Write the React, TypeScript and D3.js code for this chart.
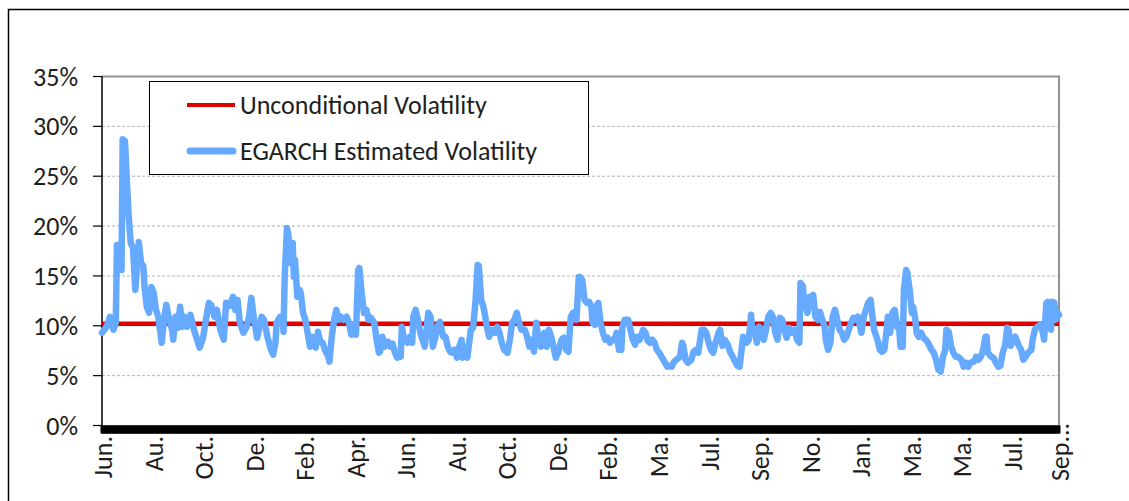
import React from "react";
import * as d3 from "d3";

// ---------- data ----------
const yTicks = [0, 5, 10, 15, 20, 25, 30, 35];
const tickLabels = ["Jun.", "Au.", "Oct.", "De.", "Feb.", "Apr.", "Jun.", "Au.", "Oct.", "De.", "Feb.", "Ma.", "Jul.", "Sep.", "No.", "Jan.", "Ma.", "Ma.", "Jul.", "Sep..."];
const tickDays = [0, 44, 88, 132, 176, 220, 264, 308, 352, 396, 440, 484, 528, 572, 616, 660, 704, 748, 792, 833];
const seriesNames = ["Unconditional Volatility", "EGARCH Estimated Volatility"];
const unconditionalVol = 10.2;
// [trading day, volatility %]
const egarch: [number, number][] = [
  [0, 9.3], [4, 9.9], [7, 10.9], [10, 9.6], [12, 10.3], [13, 18.1], [15, 18.1], [17, 15.6], [18, 28.7], [20, 28.5],
  [23, 21.3], [25, 18.3], [27, 17.8], [29, 13.6], [32, 18.4], [34, 16.3], [36, 16.0], [37, 13.9], [39, 11.9], [41, 11.3],
  [43, 13.9], [45, 13.3], [47, 11.6], [49, 10.9], [52, 8.3], [54, 10.6], [56, 12.1], [58, 10.9], [61, 9.6], [62, 8.6],
  [64, 10.9], [66, 9.8], [68, 11.9], [70, 9.9], [72, 10.9], [74, 9.9], [77, 11.1], [80, 9.6], [82, 8.9], [85, 7.8],
  [88, 8.8], [90, 10.3], [93, 12.3], [95, 12.1], [98, 10.9], [100, 11.6], [103, 9.6], [106, 8.6], [108, 12.3], [111, 12.0],
  [114, 12.9], [116, 11.6], [118, 12.6], [120, 10.3], [123, 9.3], [126, 9.9], [128, 10.9], [130, 12.8], [132, 10.9], [135, 8.8],
  [137, 9.9],
  [139, 10.9], [141, 10.6], [144, 8.9], [147, 7.6], [149, 7.1], [151, 8.3], [152, 10.3], [155, 10.9], [157, 10.9], [158, 9.4],
  [159, 14.9], [161, 19.8], [162, 19.3], [164, 16.3], [166, 18.3], [167, 14.9], [168, 16.6], [170, 12.9], [172, 13.6], [173, 13.3],
  [175, 11.3], [177, 10.6], [179, 9.3], [181, 7.9], [183, 8.9], [184, 8.6], [186, 7.8], [188, 9.4], [190, 8.4], [192, 8.3],
  [194, 7.6], [197, 6.9], [198, 6.4], [200, 8.9], [202, 10.6], [204, 11.6], [206, 10.6], [208, 10.9], [210, 10.6], [213, 10.9],
  [215, 10.3], [217, 9.1], [219, 10.1], [221, 9.1], [223, 15.6], [224, 15.8], [226, 13.3], [228, 11.3], [230, 11.6], [232, 10.6],
  [234, 10.8], [237, 10.3], [239, 8.6], [241, 7.3], [242, 7.4], [244, 8.9], [246, 7.9], [249, 8.4], [251, 7.9], [253, 8.2],
  [255, 7.3], [257, 6.8], [260, 6.9], [261, 9.9], [263, 8.6], [266, 8.3], [268, 8.9], [270, 8.3], [271, 10.9], [273, 11.6],
  [275, 10.6],
  [277, 9.3], [279, 8.6], [281, 7.9], [284, 11.3], [286, 10.9], [288, 7.9], [290, 8.8], [292, 9.9], [294, 10.4], [297, 8.9],
  [299, 8.9], [301, 7.9], [303, 7.4], [305, 7.3], [307, 7.6], [309, 6.8], [311, 7.9], [313, 8.6], [314, 6.8], [316, 7.9],
  [318, 6.8], [321, 9.6], [323, 9.8], [325, 12.3], [327, 16.1], [328, 16.0], [330, 12.6], [332, 11.9], [333, 11.3], [335, 9.9],
  [337, 8.9], [339, 9.6], [342, 9.3], [344, 9.9], [346, 9.3], [348, 8.3], [350, 7.6], [353, 7.3], [355, 8.6], [357, 10.3],
  [359, 10.6], [361, 11.3], [363, 10.3], [365, 9.6], [368, 9.6], [370, 8.9], [372, 7.9], [374, 8.6], [376, 7.4], [378, 10.3],
  [380, 8.6], [382, 7.9], [385, 9.3], [387, 7.9], [389, 9.6], [391, 8.9], [393, 7.9], [395, 6.8], [397, 7.3], [400, 8.6],
  [402, 8.8], [404, 7.6], [406, 7.4], [408, 10.9], [410, 11.3], [412, 11.4], [413, 10.6], [415, 14.9],
  [416, 14.9], [418, 14.6], [420, 12.6], [422, 12.3], [424, 12.4], [426, 11.9], [427, 10.3], [429, 10.1], [431, 12.1], [432, 12.3],
  [434, 10.3], [436, 9.3], [438, 8.6], [440, 8.8], [442, 8.3], [445, 8.6], [447, 8.9], [448, 9.3], [450, 7.6], [452, 7.6],
  [453, 9.9], [455, 10.6], [458, 10.6], [460, 9.6], [462, 8.6], [464, 8.1], [466, 8.9], [468, 8.6], [471, 9.6], [473, 9.3],
  [475, 8.5], [477, 8.3], [479, 8.6], [481, 8.3], [483, 7.6], [485, 7.3], [487, 6.9], [490, 6.3], [492, 5.9], [494, 6.0],
  [496, 5.9], [498, 6.4], [500, 6.6], [503, 6.9], [505, 8.3], [506, 8.0], [508, 6.6], [510, 6.3], [513, 6.6], [515, 7.4],
  [517, 7.6], [519, 7.3], [521, 8.9], [522, 9.6], [524, 9.6], [526, 9.3], [528, 8.3], [530, 7.6], [532, 7.3], [534, 8.3],
  [537, 9.4], [538, 9.6], [540, 8.0], [542, 8.6], [545, 8.0], [547, 7.3], [549, 6.9], [551, 6.4], [553, 6.0],
  [555, 5.9], [558, 8.9], [560, 8.6], [561, 8.3], [563, 8.6], [565, 11.1], [566, 9.3], [568, 9.6], [570, 8.3], [572, 9.9],
  [574, 9.6], [576, 8.6], [578, 9.6], [580, 10.9], [582, 11.3], [584, 10.9], [586, 9.3], [588, 8.6], [590, 10.8], [592, 10.6],
  [594, 9.6], [596, 8.8], [598, 9.8], [600, 9.3], [603, 9.6], [605, 8.6], [607, 8.3], [608, 14.3], [610, 14.0], [611, 12.6],
  [614, 11.3], [616, 12.9], [618, 12.6], [619, 13.1], [621, 10.9], [623, 10.6], [625, 11.4], [627, 10.6], [629, 9.9], [630, 8.6],
  [632, 7.6], [634, 8.3], [636, 10.9], [638, 11.6], [640, 10.6], [642, 9.6], [644, 9.3], [646, 8.6], [648, 8.9], [650, 9.6],
  [652, 10.3], [654, 10.8], [656, 10.6], [658, 10.9], [661, 9.3], [663, 10.9], [665, 11.6], [667, 12.3], [669, 12.6], [670, 11.6],
  [672, 9.6], [675, 8.6], [677, 7.6], [679, 7.4], [681, 7.6], [683, 9.6], [684, 10.9], [686, 9.3], [688, 11.3], [690, 11.6],
  [692, 9.9],
  [694, 9.6], [695, 7.9], [697, 7.9], [698, 13.6], [700, 15.6], [701, 15.3], [703, 13.6], [705, 11.3], [706, 11.9], [708, 10.6],
  [709, 9.3], [711, 8.9], [713, 9.3], [715, 8.8], [717, 8.6], [719, 8.3], [722, 7.6], [724, 7.3], [726, 6.6], [728, 5.6],
  [730, 5.4], [732, 6.9], [734, 7.6], [735, 9.6], [737, 9.4], [739, 8.0], [741, 7.3], [743, 6.9], [745, 6.9], [748, 6.6],
  [750, 5.9], [752, 6.3], [754, 5.9], [756, 6.3], [759, 6.4], [761, 6.9], [763, 6.6], [765, 6.9], [767, 7.6], [769, 8.9],
  [770, 8.9], [771, 7.3], [774, 6.9], [776, 6.8], [778, 6.3], [780, 5.9], [782, 6.0], [784, 7.3], [786, 8.0], [788, 9.8],
  [789, 9.6], [791, 8.0], [793, 8.6], [795, 8.9], [798, 8.0], [800, 7.6], [802, 6.6], [804, 6.9], [806, 7.3], [809, 7.6],
  [810, 8.6], [812, 9.6], [814, 9.9], [817, 10.1], [819, 9.3], [820, 8.6], [822, 12.3], [823, 12.4], [824, 10.9], [826, 9.6],
  [827, 12.4], [829, 12.3], [830, 10.6], [832, 11.3], [833, 11.1],
];

// ---------- layout ----------
const W = 1129;
const H = 501;
const M = { left: 102, right: 1059, top: 76.5, bottom: 425.5 };
const FONT = "Carlito, Calibri, Lato, 'Open Sans', sans-serif";
const FS = 26;
const TEXT = "#1e1e1e";
const RED = "#e00000";
const BLUE = "#66aaff";

export default function App() {
  const lastDay = tickDays[tickDays.length - 1];
  const x = d3.scaleLinear().domain([0, lastDay]).range([M.left, M.right]);
  const y = d3.scaleLinear().domain([0, 35]).range([M.bottom, M.top]);
  const line = d3
    .line<[number, number]>()
    .x((d) => x(d[0]))
    .y((d) => y(d[1]));
  const allDays = d3.range(0, lastDay + 1);

  return (
    <svg
      width={W}
      height={H}
      style={{ position: "absolute", left: 0, top: 0, background: "#fff" }}
      fontFamily={FONT}
    >
      {/* outer frame */}
      <rect x={8.5} y={9.5} width={1300} height={700} fill="#fff" stroke="#000" strokeWidth={1.5} />

      {/* gridlines */}
      {yTicks
        .filter((t) => t > 0 && t < 35)
        .map((t) => (
          <line
            key={"g" + t}
            x1={M.left}
            x2={M.right}
            y1={y(t)}
            y2={y(t)}
            stroke="#b4b4b4"
            strokeWidth={1}
            strokeDasharray="3 2"
          />
        ))}

      {/* plot border top/right */}
      <polyline
        points={`${M.left},${y(35)} ${M.right},${y(35)} ${M.right},${M.bottom}`}
        fill="none"
        stroke="#929292"
        strokeWidth={2}
      />

      {/* y axis */}
      <line x1={M.left} x2={M.left} y1={y(35)} y2={M.bottom} stroke="#000" strokeWidth={1.5} />
      {yTicks.map((t) => (
        <g key={"y" + t}>
          <line x1={M.left - 9} x2={M.left} y1={y(t)} y2={y(t)} stroke="#000" strokeWidth={1.2} />
          <text x={M.left - 24} y={y(t)} textAnchor="end" dominantBaseline="central" fontSize={FS} fill={TEXT}>
            {t + "%"}
          </text>
        </g>
      ))}

      {/* x axis: dense daily tick marks */}
      <g>
        {allDays.map((d) => (
          <line key={"xt" + d} x1={x(d)} x2={x(d)} y1={M.bottom} y2={M.bottom + 8} stroke="#000" strokeWidth={3} />
        ))}
      </g>
      {tickLabels.map((lab, i) => {
        const truncated = lab.endsWith("...");
        const main = truncated ? lab.slice(0, -2) : lab;
        const tr = `translate(${x(tickDays[i]) + 1},${M.bottom + 10.5}) rotate(-90)`;
        return (
          <g key={"xl" + i}>
            <text transform={tr} textAnchor="end" dominantBaseline="central" fontSize={FS} fill={TEXT}>
              {main}
            </text>
            {truncated && (
              <text transform={tr} textAnchor="start" dominantBaseline="central" fontSize={FS} fill={TEXT}>
                {".."}
              </text>
            )}
          </g>
        );
      })}

      {/* unconditional volatility */}
      <line
        x1={x(0)}
        x2={x(lastDay)}
        y1={y(unconditionalVol)}
        y2={y(unconditionalVol)}
        stroke={RED}
        strokeWidth={4.5}
      />

      {/* EGARCH */}
      <path
        d={line(egarch) || ""}
        fill="none"
        stroke={BLUE}
        strokeWidth={6.5}
        strokeLinejoin="round"
        strokeLinecap="round"
      />

      {/* legend */}
      <rect x={149.5} y={81.5} width={439} height={93} fill="#fff" stroke="#000" strokeWidth={1} />
      <line x1={187} x2={235} y1={105} y2={105} stroke={RED} strokeWidth={4} />
      <text x={240} y={105} dominantBaseline="central" fontSize={FS} fill={TEXT}>
        {seriesNames[0]}
      </text>
      <line x1={190} x2={233} y1={151} y2={151} stroke={BLUE} strokeWidth={7} strokeLinecap="round" />
      <text x={240} y={151} dominantBaseline="central" fontSize={FS} fill={TEXT}>
        {seriesNames[1]}
      </text>
    </svg>
  );
}
